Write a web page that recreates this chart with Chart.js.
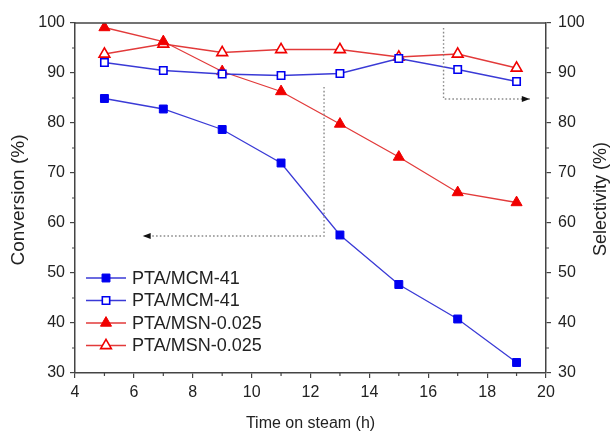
<!DOCTYPE html>
<html><head><meta charset="utf-8">
<script src="https://cdn.jsdelivr.net/npm/chart.js@4.4.1/dist/chart.umd.min.js"></script>
<style>html,body{margin:0;padding:0;background:#fff}#wrap{width:610px;height:432px;position:relative}</style>
</head><body><div id="wrap"><canvas id="c" width="610" height="432"></canvas></div>
<script>
// ---- data ----
const timeHours = [5, 7, 9, 11, 13, 15, 17, 19];
const convMCM = [84.9, 82.8, 78.7, 72.0, 57.6, 47.7, 40.8, 32.1];
const selMCM  = [92.1, 90.5, 89.8, 89.5, 89.9, 92.9, 90.7, 88.3];
const convMSN = [99.1, 96.3, 90.3, 86.3, 79.8, 73.2, 66.1, 64.1];
const selMSN  = [93.8, 95.8, 94.1, 94.7, 94.7, 93.2, 93.8, 91.0];
const seriesLabels = ['PTA/MCM-41', 'PTA/MCM-41', 'PTA/MSN-0.025', 'PTA/MSN-0.025'];
const xTicks = [4, 6, 8, 10, 12, 14, 16, 18, 20];
const yTicks = [30, 40, 50, 60, 70, 80, 90, 100];
const xMinorTicks = [5, 7, 9, 11, 13, 15, 17, 19];
const yMinorTicks = [35, 45, 55, 65, 75, 85, 95];
const xTitle = 'Time on steam (h)';
const yTitle = 'Conversion (%)';
const y1Title = 'Selectivity (%)';
// guide arrows in data units [x, y]
const arrowLeft  = [[12.46, 87.2], [12.46, 57.4], [6.3, 57.4]];
const arrowRight = [[16.52, 99.0], [16.52, 84.8], [19.45, 84.8]];

const FONT = "'Liberation Sans', Arial, sans-serif";
const BLUE_L = '#3a3ad6', BLUE_M = '#0000f0', RED_L = '#e23a3a', RED_M = '#f00000';

const styles = [
  {line: BLUE_L, mark: BLUE_M, style: 'rect', fill: true, r: 5.6},
  {line: BLUE_L, mark: BLUE_M, style: 'rect', fill: false, r: 5.2},
  {line: RED_L, mark: RED_M, style: 'triangle', fill: true, r: 6.4},
  {line: RED_L, mark: RED_M, style: 'triangle', fill: false, r: 6.2}
];
const seriesData = [convMCM, selMCM, convMSN, selMSN];
const axisIds = ['y', 'y1', 'y', 'y1'];

const datasets = seriesData.map((arr, i) => ({
  label: seriesLabels[i],
  data: arr.map((v, k) => ({x: timeHours[k], y: v})),
  yAxisID: axisIds[i],
  borderColor: styles[i].line,
  borderWidth: 1.3,
  pointStyle: styles[i].style,
  pointRadius: styles[i].r,
  pointBackgroundColor: styles[i].fill ? styles[i].mark : '#ffffff',
  pointBorderColor: styles[i].mark,
  pointBorderWidth: styles[i].fill ? 1 : 1.6,
  tension: 0,
  order: i
}));

function drawMarker(ctx, st, x, y) {
  ctx.save();
  ctx.beginPath();
  if (st.style === 'rect') {
    const s = Math.SQRT1_2 * st.r;
    ctx.rect(x - s, y - s, 2 * s, 2 * s);
  } else {
    const r = st.r;
    ctx.moveTo(x, y - r);
    ctx.lineTo(x + r * Math.sin(Math.PI * 2 / 3), y - r * Math.cos(Math.PI * 2 / 3));
    ctx.lineTo(x + r * Math.sin(Math.PI * 4 / 3), y - r * Math.cos(Math.PI * 4 / 3));
    ctx.closePath();
  }
  ctx.fillStyle = st.fill ? st.mark : '#fff';
  ctx.fill();
  ctx.strokeStyle = st.mark;
  ctx.lineWidth = st.fill ? 1 : 1.6;
  ctx.stroke();
  ctx.restore();
}

const decor = {
  id: 'decor',
  afterDatasetsDraw(chart) {
    const {ctx, chartArea: a, scales} = chart;
    const xs = scales.x, ys = scales.y, ys1 = scales.y1;
    ctx.save();
    // top frame
    ctx.strokeStyle = '#444'; ctx.lineWidth = 1.5;
    ctx.beginPath(); ctx.moveTo(a.left, a.top); ctx.lineTo(a.right, a.top); ctx.stroke();
    // minor ticks
    ctx.lineWidth = 1.2;
    ctx.beginPath();
    xMinorTicks.forEach(v => { const px = xs.getPixelForValue(v); ctx.moveTo(px, a.bottom); ctx.lineTo(px, a.bottom + 3); });
    yMinorTicks.forEach(v => {
      const py = ys.getPixelForValue(v); ctx.moveTo(a.left, py); ctx.lineTo(a.left - 3, py);
      const py1 = ys1.getPixelForValue(v); ctx.moveTo(a.right, py1); ctx.lineTo(a.right + 3, py1);
    });
    ctx.stroke();
    // guide arrows
    function arrow(path, axis) {
      const pts = path.map(p => [xs.getPixelForValue(p[0]), axis.getPixelForValue(p[1])]);
      ctx.save();
      ctx.strokeStyle = '#8a8a8a'; ctx.lineWidth = 1.4; ctx.setLineDash([1.6, 2.2]);
      ctx.beginPath(); ctx.moveTo(pts[0][0], pts[0][1]);
      for (let i = 1; i < pts.length; i++) ctx.lineTo(pts[i][0], pts[i][1]);
      ctx.stroke();
      ctx.setLineDash([]);
      const e = pts[pts.length - 1], p = pts[pts.length - 2];
      const dir = Math.sign(e[0] - p[0]);
      ctx.fillStyle = '#111';
      ctx.beginPath(); ctx.moveTo(e[0], e[1]); ctx.lineTo(e[0] - dir * 8, e[1] - 3); ctx.lineTo(e[0] - dir * 8, e[1] + 3); ctx.closePath(); ctx.fill();
      ctx.restore();
    }
    arrow(arrowLeft, ys);
    arrow(arrowRight, ys1);
    // legend
    const rowY = [278, 300.5, 323, 345.5];
    ctx.font = '18px ' + FONT; ctx.fillStyle = '#222'; ctx.textBaseline = 'middle'; ctx.textAlign = 'left';
    chart.data.datasets.forEach((ds, i) => {
      const y = rowY[i];
      ctx.strokeStyle = styles[i].line; ctx.lineWidth = 1.3;
      ctx.beginPath(); ctx.moveTo(86, y); ctx.lineTo(126, y); ctx.stroke();
      drawMarker(ctx, styles[i], 106, y);
      ctx.fillStyle = '#222';
      ctx.fillText(ds.label, 132, y + 1);
    });
    // axis titles
    ctx.fillStyle = '#222';
    ctx.font = '16px ' + FONT; ctx.textAlign = 'center'; ctx.textBaseline = 'alphabetic';
    ctx.fillText(xTitle, (a.left + a.right) / 2, 428);
    ctx.font = '19px ' + FONT;
    ctx.save(); ctx.translate(24, (a.top + a.bottom) / 2 + 2); ctx.rotate(-Math.PI / 2); ctx.fillText(yTitle, 0, 0); ctx.restore();
    ctx.font = '18px ' + FONT;
    ctx.save(); ctx.translate(606, (a.top + a.bottom) / 2 + 1); ctx.rotate(-Math.PI / 2); ctx.fillText(y1Title, 0, 0); ctx.restore();
    ctx.restore();
  }
};

const gridOpt = {drawOnChartArea: false, drawTicks: true, tickLength: 5, color: '#444', lineWidth: 1.2};
const borderOpt = {display: true, color: '#444', width: 1.5};
const tickFont = {family: FONT, size: 16};

new Chart(document.getElementById('c'), {
  type: 'line',
  data: {datasets},
  options: {
    responsive: false,
    animation: false,
    devicePixelRatio: 1,
    layout: {padding: {top: 23, left: 0, right: 0, bottom: 0}},
    plugins: {legend: {display: false}, tooltip: {enabled: false}},
    scales: {
      x: {
        type: 'linear', min: 4, max: 20, offset: false,
        afterBuildTicks: s => { s.ticks = xTicks.map(v => ({value: v})); },
        afterFit: s => { s.height = 59; },
        ticks: {font: tickFont, color: '#222', padding: 5, maxRotation: 0},
        grid: gridOpt, border: borderOpt
      },
      y: {
        type: 'linear', position: 'left', min: 30, max: 100,
        afterBuildTicks: s => { s.ticks = yTicks.map(v => ({value: v})); },
        afterFit: s => { s.width = 75; },
        ticks: {font: tickFont, color: '#222', padding: 5},
        grid: gridOpt, border: borderOpt
      },
      y1: {
        type: 'linear', position: 'right', min: 30, max: 100,
        afterBuildTicks: s => { s.ticks = yTicks.map(v => ({value: v})); },
        afterFit: s => { s.width = 64; },
        ticks: {font: tickFont, color: '#222', padding: 7},
        grid: gridOpt, border: borderOpt
      }
    }
  },
  plugins: [decor]
});
</script></body></html>
